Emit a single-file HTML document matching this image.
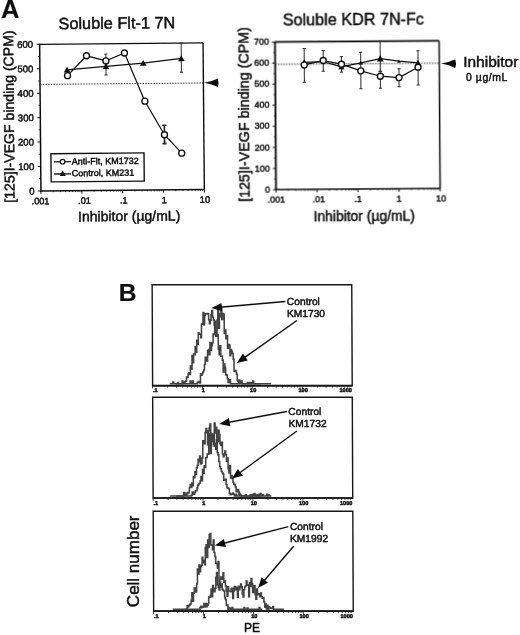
<!DOCTYPE html>
<html><head><meta charset="utf-8"><title>Figure</title>
<style>
html,body{margin:0;padding:0;background:#fff;}
svg{display:block;font-family:"Liberation Sans", sans-serif;fill:#111;}
text{stroke:#0a0a0a;stroke-width:0.43px;fill:#0a0a0a;}
</style></head><body>
<svg width="520" height="635" viewBox="0 0 520 635">
<defs><filter id="soft" x="0" y="0" width="100%" height="100%" filterUnits="userSpaceOnUse"><feGaussianBlur stdDeviation="0.32"/></filter></defs>
<rect width="520" height="635" fill="#fff"/>
<g filter="url(#soft)">
<text x="1" y="17.6" font-size="25.5" text-anchor="start" font-weight="bold" style="stroke-width:0.15px">A</text>
<g transform="rotate(-0.5 121 117)">
<text x="117.7" y="28.6" font-size="16.3" text-anchor="middle" font-weight="normal" >Soluble Flt-1 7N</text>
<line x1="40.30" y1="43.10" x2="40.30" y2="190.70" stroke="#111" stroke-width="1.5" />
<line x1="39.80" y1="190.20" x2="204.20" y2="190.20" stroke="#111" stroke-width="1.5" />
<line x1="40.30" y1="43.60" x2="203.70" y2="43.60" stroke="#111" stroke-width="1.3" />
<line x1="203.70" y1="43.60" x2="203.70" y2="190.20" stroke="#111" stroke-width="1.4" />
<line x1="37.30" y1="190.20" x2="40.30" y2="190.20" stroke="#111" stroke-width="1" />
<text x="33.8" y="193.6" font-size="9.6" text-anchor="end" font-weight="normal" >0</text>
<line x1="37.30" y1="165.77" x2="40.30" y2="165.77" stroke="#111" stroke-width="1" />
<text x="33.8" y="169.16666666666666" font-size="9.6" text-anchor="end" font-weight="normal" >100</text>
<line x1="37.30" y1="141.33" x2="40.30" y2="141.33" stroke="#111" stroke-width="1" />
<text x="33.8" y="144.73333333333332" font-size="9.6" text-anchor="end" font-weight="normal" >200</text>
<line x1="37.30" y1="116.90" x2="40.30" y2="116.90" stroke="#111" stroke-width="1" />
<text x="33.8" y="120.3" font-size="9.6" text-anchor="end" font-weight="normal" >300</text>
<line x1="37.30" y1="92.47" x2="40.30" y2="92.47" stroke="#111" stroke-width="1" />
<text x="33.8" y="95.86666666666666" font-size="9.6" text-anchor="end" font-weight="normal" >400</text>
<line x1="37.30" y1="68.03" x2="40.30" y2="68.03" stroke="#111" stroke-width="1" />
<text x="33.8" y="71.43333333333332" font-size="9.6" text-anchor="end" font-weight="normal" >500</text>
<line x1="37.30" y1="43.60" x2="40.30" y2="43.60" stroke="#111" stroke-width="1" />
<text x="33.8" y="46.99999999999999" font-size="9.6" text-anchor="end" font-weight="normal" >600</text>
<line x1="38.50" y1="177.98" x2="40.30" y2="177.98" stroke="#111" stroke-width="0.8" />
<line x1="38.50" y1="153.55" x2="40.30" y2="153.55" stroke="#111" stroke-width="0.8" />
<line x1="38.50" y1="129.12" x2="40.30" y2="129.12" stroke="#111" stroke-width="0.8" />
<line x1="38.50" y1="104.68" x2="40.30" y2="104.68" stroke="#111" stroke-width="0.8" />
<line x1="38.50" y1="80.25" x2="40.30" y2="80.25" stroke="#111" stroke-width="0.8" />
<line x1="38.50" y1="55.82" x2="40.30" y2="55.82" stroke="#111" stroke-width="0.8" />
<line x1="52.60" y1="190.20" x2="52.60" y2="191.70" stroke="#111" stroke-width="0.7" />
<line x1="59.79" y1="190.20" x2="59.79" y2="191.70" stroke="#111" stroke-width="0.7" />
<line x1="64.89" y1="190.20" x2="64.89" y2="191.70" stroke="#111" stroke-width="0.7" />
<line x1="68.85" y1="190.20" x2="68.85" y2="191.70" stroke="#111" stroke-width="0.7" />
<line x1="72.09" y1="190.20" x2="72.09" y2="191.70" stroke="#111" stroke-width="0.7" />
<line x1="74.82" y1="190.20" x2="74.82" y2="191.70" stroke="#111" stroke-width="0.7" />
<line x1="77.19" y1="190.20" x2="77.19" y2="191.70" stroke="#111" stroke-width="0.7" />
<line x1="79.28" y1="190.20" x2="79.28" y2="191.70" stroke="#111" stroke-width="0.7" />
<line x1="93.45" y1="190.20" x2="93.45" y2="191.70" stroke="#111" stroke-width="0.7" />
<line x1="100.64" y1="190.20" x2="100.64" y2="191.70" stroke="#111" stroke-width="0.7" />
<line x1="105.74" y1="190.20" x2="105.74" y2="191.70" stroke="#111" stroke-width="0.7" />
<line x1="109.70" y1="190.20" x2="109.70" y2="191.70" stroke="#111" stroke-width="0.7" />
<line x1="112.94" y1="190.20" x2="112.94" y2="191.70" stroke="#111" stroke-width="0.7" />
<line x1="115.67" y1="190.20" x2="115.67" y2="191.70" stroke="#111" stroke-width="0.7" />
<line x1="118.04" y1="190.20" x2="118.04" y2="191.70" stroke="#111" stroke-width="0.7" />
<line x1="120.13" y1="190.20" x2="120.13" y2="191.70" stroke="#111" stroke-width="0.7" />
<line x1="134.30" y1="190.20" x2="134.30" y2="191.70" stroke="#111" stroke-width="0.7" />
<line x1="141.49" y1="190.20" x2="141.49" y2="191.70" stroke="#111" stroke-width="0.7" />
<line x1="146.59" y1="190.20" x2="146.59" y2="191.70" stroke="#111" stroke-width="0.7" />
<line x1="150.55" y1="190.20" x2="150.55" y2="191.70" stroke="#111" stroke-width="0.7" />
<line x1="153.79" y1="190.20" x2="153.79" y2="191.70" stroke="#111" stroke-width="0.7" />
<line x1="156.52" y1="190.20" x2="156.52" y2="191.70" stroke="#111" stroke-width="0.7" />
<line x1="158.89" y1="190.20" x2="158.89" y2="191.70" stroke="#111" stroke-width="0.7" />
<line x1="160.98" y1="190.20" x2="160.98" y2="191.70" stroke="#111" stroke-width="0.7" />
<line x1="175.15" y1="190.20" x2="175.15" y2="191.70" stroke="#111" stroke-width="0.7" />
<line x1="182.34" y1="190.20" x2="182.34" y2="191.70" stroke="#111" stroke-width="0.7" />
<line x1="187.44" y1="190.20" x2="187.44" y2="191.70" stroke="#111" stroke-width="0.7" />
<line x1="191.40" y1="190.20" x2="191.40" y2="191.70" stroke="#111" stroke-width="0.7" />
<line x1="194.64" y1="190.20" x2="194.64" y2="191.70" stroke="#111" stroke-width="0.7" />
<line x1="197.37" y1="190.20" x2="197.37" y2="191.70" stroke="#111" stroke-width="0.7" />
<line x1="199.74" y1="190.20" x2="199.74" y2="191.70" stroke="#111" stroke-width="0.7" />
<line x1="201.83" y1="190.20" x2="201.83" y2="191.70" stroke="#111" stroke-width="0.7" />
<line x1="40.30" y1="190.20" x2="40.30" y2="193.20" stroke="#111" stroke-width="1" />
<text x="39.8" y="203.5" font-size="9.2" text-anchor="middle" font-weight="normal" >.001</text>
<line x1="81.15" y1="190.20" x2="81.15" y2="193.20" stroke="#111" stroke-width="1" />
<text x="83.74999999999999" y="203.5" font-size="9.2" text-anchor="middle" font-weight="normal" >.01</text>
<line x1="122.00" y1="190.20" x2="122.00" y2="193.20" stroke="#111" stroke-width="1" />
<text x="122.99999999999999" y="203.5" font-size="9.2" text-anchor="middle" font-weight="normal" >.1</text>
<line x1="162.85" y1="190.20" x2="162.85" y2="193.20" stroke="#111" stroke-width="1" />
<text x="163.54999999999995" y="203.5" font-size="9.2" text-anchor="middle" font-weight="normal" >1</text>
<line x1="203.70" y1="190.20" x2="203.70" y2="193.20" stroke="#111" stroke-width="1" />
<text x="204.2" y="203.5" font-size="9.2" text-anchor="middle" font-weight="normal" >10</text>
<text x="128.3" y="221.0" font-size="14.0" text-anchor="middle" font-weight="normal" >Inhibitor (µg/mL)</text>
<text x="13.9" y="115.6" font-size="14.1" text-anchor="middle" font-weight="normal" transform="rotate(-90 13.9 115.6)" >[125]I-VEGF binding (CPM)</text>
<line x1="40.30" y1="83.70" x2="203.70" y2="83.70" stroke="#222" stroke-width="0.9" stroke-dasharray="1.5 1.2"/>
<path d="M204.30,83.60 Q212.55,82.22 218.10,79.30 Q219.60,83.60 218.10,87.90 Q212.55,84.98 204.30,83.60 Z" fill="#111"/>
<line x1="106.40" y1="54.00" x2="106.40" y2="74.80" stroke="#2a2a2a" stroke-width="1.0" />
<line x1="104.80" y1="54.00" x2="108.00" y2="54.00" stroke="#2a2a2a" stroke-width="1.0" />
<line x1="104.80" y1="74.80" x2="108.00" y2="74.80" stroke="#2a2a2a" stroke-width="1.0" />
<line x1="181.80" y1="43.60" x2="181.80" y2="72.80" stroke="#2a2a2a" stroke-width="1.0" />
<line x1="180.20" y1="43.60" x2="183.40" y2="43.60" stroke="#2a2a2a" stroke-width="1.0" />
<line x1="180.20" y1="72.80" x2="183.40" y2="72.80" stroke="#2a2a2a" stroke-width="1.0" />
<line x1="164.30" y1="125.60" x2="164.30" y2="144.00" stroke="#222" stroke-width="1.6" />
<line x1="162.30" y1="125.60" x2="166.30" y2="125.60" stroke="#222" stroke-width="1.6" />
<line x1="162.30" y1="144.00" x2="166.30" y2="144.00" stroke="#222" stroke-width="1.6" />
<polyline fill="none" stroke="#111" stroke-width="1.25" points="67.5,69.3 106.4,66.3 143.7,63.4 181.8,59.0"/>
<polyline fill="none" stroke="#111" stroke-width="1.25" points="67.9,75.2 87,55.5 106.4,60.8 125,53 145,101.4 164.3,135.1 181.4,153.7"/>
<polygon points="67.50,66.00 64.20,71.94 70.80,71.94" fill="#111"/>
<polygon points="106.40,63.00 103.10,68.94 109.70,68.94" fill="#111"/>
<polygon points="143.70,60.10 140.40,66.04 147.00,66.04" fill="#111"/>
<polygon points="181.80,55.70 178.50,61.64 185.10,61.64" fill="#111"/>
<circle cx="67.90" cy="75.20" r="3.0" fill="#fff" stroke="#111" stroke-width="1.35"/>
<circle cx="87.00" cy="55.50" r="3.0" fill="#fff" stroke="#111" stroke-width="1.35"/>
<circle cx="106.40" cy="60.80" r="3.0" fill="#fff" stroke="#111" stroke-width="1.35"/>
<circle cx="125.00" cy="53.00" r="3.0" fill="#fff" stroke="#111" stroke-width="1.35"/>
<circle cx="145.00" cy="101.40" r="3.0" fill="#fff" stroke="#111" stroke-width="1.35"/>
<circle cx="164.30" cy="135.10" r="3.0" fill="#fff" stroke="#111" stroke-width="1.35"/>
<circle cx="181.40" cy="153.70" r="3.0" fill="#fff" stroke="#111" stroke-width="1.35"/>
<rect x="50.6" y="153.1" width="93.1" height="28.2" fill="#fff" stroke="#111" stroke-width="1.4"/>
<line x1="53.70" y1="161.20" x2="70.70" y2="161.20" stroke="#111" stroke-width="1.3" />
<circle cx="62.20" cy="161.20" r="2.3" fill="#fff" stroke="#111" stroke-width="1.2"/>
<line x1="53.70" y1="173.40" x2="70.70" y2="173.40" stroke="#111" stroke-width="1.3" />
<polygon points="62.20,170.00 59.20,175.40 65.20,175.40" fill="#111"/>
<text x="71.3" y="164.0" font-size="9" text-anchor="start" font-weight="normal" >Anti-Flt, KM1732</text>
<text x="71.3" y="175.8" font-size="9" text-anchor="start" font-weight="normal" >Control, KM231</text>
</g>
<g transform="rotate(-0.4 358 115)">
<text x="354.1" y="25" font-size="16.2" text-anchor="middle" font-weight="normal" >Soluble KDR 7N-Fc</text>
<line x1="275.50" y1="40.90" x2="275.50" y2="189.50" stroke="#111" stroke-width="1.9" />
<line x1="275.00" y1="189.00" x2="440.10" y2="189.00" stroke="#111" stroke-width="1.7" />
<line x1="275.50" y1="41.40" x2="439.60" y2="41.40" stroke="#111" stroke-width="1.6" />
<line x1="439.60" y1="41.40" x2="439.60" y2="189.00" stroke="#111" stroke-width="1.5" />
<line x1="272.50" y1="189.00" x2="275.50" y2="189.00" stroke="#111" stroke-width="1" />
<text x="269.5" y="191.7" font-size="9" text-anchor="end" font-weight="normal" >0</text>
<line x1="272.50" y1="167.91" x2="275.50" y2="167.91" stroke="#111" stroke-width="1" />
<text x="269.5" y="170.6142857142857" font-size="9" text-anchor="end" font-weight="normal" >100</text>
<line x1="272.50" y1="146.83" x2="275.50" y2="146.83" stroke="#111" stroke-width="1" />
<text x="269.5" y="149.5285714285714" font-size="9" text-anchor="end" font-weight="normal" >200</text>
<line x1="272.50" y1="125.74" x2="275.50" y2="125.74" stroke="#111" stroke-width="1" />
<text x="269.5" y="128.44285714285712" font-size="9" text-anchor="end" font-weight="normal" >300</text>
<line x1="272.50" y1="104.66" x2="275.50" y2="104.66" stroke="#111" stroke-width="1" />
<text x="269.5" y="107.35714285714286" font-size="9" text-anchor="end" font-weight="normal" >400</text>
<line x1="272.50" y1="83.57" x2="275.50" y2="83.57" stroke="#111" stroke-width="1" />
<text x="269.5" y="86.27142857142857" font-size="9" text-anchor="end" font-weight="normal" >500</text>
<line x1="272.50" y1="62.49" x2="275.50" y2="62.49" stroke="#111" stroke-width="1" />
<text x="269.5" y="65.18571428571428" font-size="9" text-anchor="end" font-weight="normal" >600</text>
<line x1="272.50" y1="41.40" x2="275.50" y2="41.40" stroke="#111" stroke-width="1" />
<text x="269.5" y="44.10000000000001" font-size="9" text-anchor="end" font-weight="normal" >700</text>
<line x1="273.70" y1="178.46" x2="275.50" y2="178.46" stroke="#111" stroke-width="0.8" />
<line x1="273.70" y1="157.37" x2="275.50" y2="157.37" stroke="#111" stroke-width="0.8" />
<line x1="273.70" y1="136.29" x2="275.50" y2="136.29" stroke="#111" stroke-width="0.8" />
<line x1="273.70" y1="115.20" x2="275.50" y2="115.20" stroke="#111" stroke-width="0.8" />
<line x1="273.70" y1="94.11" x2="275.50" y2="94.11" stroke="#111" stroke-width="0.8" />
<line x1="273.70" y1="73.03" x2="275.50" y2="73.03" stroke="#111" stroke-width="0.8" />
<line x1="273.70" y1="51.94" x2="275.50" y2="51.94" stroke="#111" stroke-width="0.8" />
<line x1="287.85" y1="189.00" x2="287.85" y2="190.50" stroke="#111" stroke-width="0.7" />
<line x1="295.07" y1="189.00" x2="295.07" y2="190.50" stroke="#111" stroke-width="0.7" />
<line x1="300.20" y1="189.00" x2="300.20" y2="190.50" stroke="#111" stroke-width="0.7" />
<line x1="304.18" y1="189.00" x2="304.18" y2="190.50" stroke="#111" stroke-width="0.7" />
<line x1="307.42" y1="189.00" x2="307.42" y2="190.50" stroke="#111" stroke-width="0.7" />
<line x1="310.17" y1="189.00" x2="310.17" y2="190.50" stroke="#111" stroke-width="0.7" />
<line x1="312.55" y1="189.00" x2="312.55" y2="190.50" stroke="#111" stroke-width="0.7" />
<line x1="314.65" y1="189.00" x2="314.65" y2="190.50" stroke="#111" stroke-width="0.7" />
<line x1="328.87" y1="189.00" x2="328.87" y2="190.50" stroke="#111" stroke-width="0.7" />
<line x1="336.10" y1="189.00" x2="336.10" y2="190.50" stroke="#111" stroke-width="0.7" />
<line x1="341.22" y1="189.00" x2="341.22" y2="190.50" stroke="#111" stroke-width="0.7" />
<line x1="345.20" y1="189.00" x2="345.20" y2="190.50" stroke="#111" stroke-width="0.7" />
<line x1="348.45" y1="189.00" x2="348.45" y2="190.50" stroke="#111" stroke-width="0.7" />
<line x1="351.20" y1="189.00" x2="351.20" y2="190.50" stroke="#111" stroke-width="0.7" />
<line x1="353.57" y1="189.00" x2="353.57" y2="190.50" stroke="#111" stroke-width="0.7" />
<line x1="355.67" y1="189.00" x2="355.67" y2="190.50" stroke="#111" stroke-width="0.7" />
<line x1="369.90" y1="189.00" x2="369.90" y2="190.50" stroke="#111" stroke-width="0.7" />
<line x1="377.12" y1="189.00" x2="377.12" y2="190.50" stroke="#111" stroke-width="0.7" />
<line x1="382.25" y1="189.00" x2="382.25" y2="190.50" stroke="#111" stroke-width="0.7" />
<line x1="386.23" y1="189.00" x2="386.23" y2="190.50" stroke="#111" stroke-width="0.7" />
<line x1="389.47" y1="189.00" x2="389.47" y2="190.50" stroke="#111" stroke-width="0.7" />
<line x1="392.22" y1="189.00" x2="392.22" y2="190.50" stroke="#111" stroke-width="0.7" />
<line x1="394.60" y1="189.00" x2="394.60" y2="190.50" stroke="#111" stroke-width="0.7" />
<line x1="396.70" y1="189.00" x2="396.70" y2="190.50" stroke="#111" stroke-width="0.7" />
<line x1="410.92" y1="189.00" x2="410.92" y2="190.50" stroke="#111" stroke-width="0.7" />
<line x1="418.15" y1="189.00" x2="418.15" y2="190.50" stroke="#111" stroke-width="0.7" />
<line x1="423.27" y1="189.00" x2="423.27" y2="190.50" stroke="#111" stroke-width="0.7" />
<line x1="427.25" y1="189.00" x2="427.25" y2="190.50" stroke="#111" stroke-width="0.7" />
<line x1="430.50" y1="189.00" x2="430.50" y2="190.50" stroke="#111" stroke-width="0.7" />
<line x1="433.25" y1="189.00" x2="433.25" y2="190.50" stroke="#111" stroke-width="0.7" />
<line x1="435.62" y1="189.00" x2="435.62" y2="190.50" stroke="#111" stroke-width="0.7" />
<line x1="437.72" y1="189.00" x2="437.72" y2="190.50" stroke="#111" stroke-width="0.7" />
<line x1="275.50" y1="189.00" x2="275.50" y2="192.00" stroke="#111" stroke-width="1" />
<text x="275.7" y="201.8" font-size="9" text-anchor="middle" font-weight="normal" >.001</text>
<line x1="316.52" y1="189.00" x2="316.52" y2="192.00" stroke="#111" stroke-width="1" />
<text x="318.325" y="201.8" font-size="9" text-anchor="middle" font-weight="normal" >.01</text>
<line x1="357.55" y1="189.00" x2="357.55" y2="192.00" stroke="#111" stroke-width="1" />
<text x="357.55" y="201.8" font-size="9" text-anchor="middle" font-weight="normal" >.1</text>
<line x1="398.58" y1="189.00" x2="398.58" y2="192.00" stroke="#111" stroke-width="1" />
<text x="398.57500000000005" y="201.8" font-size="9" text-anchor="middle" font-weight="normal" >1</text>
<line x1="439.60" y1="189.00" x2="439.60" y2="192.00" stroke="#111" stroke-width="1" />
<text x="440.6" y="201.8" font-size="9" text-anchor="middle" font-weight="normal" >10</text>
<text x="363.5" y="220.6" font-size="13.9" text-anchor="middle" font-weight="normal" >Inhibitor (µg/mL)</text>
<text x="248.6" y="113.6" font-size="14.3" text-anchor="middle" font-weight="normal" transform="rotate(-90 248.6 113.6)" >[125]I-VEGF binding (CPM)</text>
<line x1="275.50" y1="63.80" x2="439.60" y2="63.80" stroke="#222" stroke-width="0.9" stroke-dasharray="1.5 1.2"/>
</g>
<path d="M441.00,63.60 Q449.52,62.22 455.26,59.30 Q456.81,63.60 455.26,67.90 Q449.52,64.98 441.00,63.60 Z" fill="#111"/>
<text x="463.2" y="67" font-size="15.5" text-anchor="start" font-weight="normal" >Inhibitor</text>
<text x="466" y="80.8" font-size="10.4" text-anchor="start" font-weight="normal" letter-spacing="0.6">0 µg/mL</text>
<g transform="rotate(-0.4 358 115)">
<line x1="304.60" y1="48.20" x2="304.60" y2="81.90" stroke="#2a2a2a" stroke-width="1.0" />
<line x1="303.00" y1="48.20" x2="306.20" y2="48.20" stroke="#2a2a2a" stroke-width="1.0" />
<line x1="303.00" y1="81.90" x2="306.20" y2="81.90" stroke="#2a2a2a" stroke-width="1.0" />
<line x1="323.60" y1="50.20" x2="323.60" y2="71.00" stroke="#2a2a2a" stroke-width="1.0" />
<line x1="322.00" y1="50.20" x2="325.20" y2="50.20" stroke="#2a2a2a" stroke-width="1.0" />
<line x1="322.00" y1="71.00" x2="325.20" y2="71.00" stroke="#2a2a2a" stroke-width="1.0" />
<line x1="341.80" y1="56.50" x2="341.80" y2="72.00" stroke="#2a2a2a" stroke-width="1.0" />
<line x1="340.20" y1="56.50" x2="343.40" y2="56.50" stroke="#2a2a2a" stroke-width="1.0" />
<line x1="340.20" y1="72.00" x2="343.40" y2="72.00" stroke="#2a2a2a" stroke-width="1.0" />
<line x1="361.10" y1="52.20" x2="361.10" y2="88.80" stroke="#2a2a2a" stroke-width="1.0" />
<line x1="359.50" y1="52.20" x2="362.70" y2="52.20" stroke="#2a2a2a" stroke-width="1.0" />
<line x1="359.50" y1="88.80" x2="362.70" y2="88.80" stroke="#2a2a2a" stroke-width="1.0" />
<line x1="380.60" y1="41.40" x2="380.60" y2="88.50" stroke="#2a2a2a" stroke-width="1.0" />
<line x1="379.00" y1="41.40" x2="382.20" y2="41.40" stroke="#2a2a2a" stroke-width="1.0" />
<line x1="379.00" y1="88.50" x2="382.20" y2="88.50" stroke="#2a2a2a" stroke-width="1.0" />
<line x1="399.30" y1="69.00" x2="399.30" y2="87.10" stroke="#2a2a2a" stroke-width="1.0" />
<line x1="397.70" y1="69.00" x2="400.90" y2="69.00" stroke="#2a2a2a" stroke-width="1.0" />
<line x1="397.70" y1="87.10" x2="400.90" y2="87.10" stroke="#2a2a2a" stroke-width="1.0" />
<line x1="418.40" y1="51.10" x2="418.40" y2="85.40" stroke="#2a2a2a" stroke-width="1.0" />
<line x1="416.80" y1="51.10" x2="420.00" y2="51.10" stroke="#2a2a2a" stroke-width="1.0" />
<line x1="416.80" y1="85.40" x2="420.00" y2="85.40" stroke="#2a2a2a" stroke-width="1.0" />
<line x1="380.60" y1="71.50" x2="380.60" y2="71.50" stroke="#2a2a2a" stroke-width="1.0" />
<line x1="379.00" y1="71.50" x2="382.20" y2="71.50" stroke="#2a2a2a" stroke-width="1.0" />
<line x1="379.00" y1="71.50" x2="382.20" y2="71.50" stroke="#2a2a2a" stroke-width="1.0" />
<polyline fill="none" stroke="#111" stroke-width="1.25" points="304.6,62 323.6,61.3 341.8,66.8 361.1,62.9 380.6,58.8 399.3,61.5 418.4,63.2"/>
<polyline fill="none" stroke="#111" stroke-width="1.25" points="304.6,64.6 323.6,60.3 341.8,64.1 361.1,70.9 380.6,76.4 399.3,77.9 418.4,67.7"/>
<polygon points="304.60,58.90 301.50,64.48 307.70,64.48" fill="#111"/>
<polygon points="323.60,59.10 321.40,63.06 325.80,63.06" fill="#111"/>
<polygon points="341.80,63.70 338.70,69.28 344.90,69.28" fill="#111"/>
<polygon points="361.10,60.70 358.90,64.66 363.30,64.66" fill="#111"/>
<polygon points="380.60,55.30 377.10,61.60 384.10,61.60" fill="#111"/>
<polygon points="399.30,59.70 397.50,62.94 401.10,62.94" fill="#111"/>
<polygon points="418.40,60.20 415.40,65.60 421.40,65.60" fill="#111"/>
<circle cx="304.60" cy="64.60" r="3.0" fill="#fff" stroke="#111" stroke-width="1.35"/>
<circle cx="323.60" cy="60.30" r="3.0" fill="#fff" stroke="#111" stroke-width="1.35"/>
<circle cx="341.80" cy="64.10" r="3.0" fill="#fff" stroke="#111" stroke-width="1.35"/>
<circle cx="361.10" cy="70.90" r="3.0" fill="#fff" stroke="#111" stroke-width="1.35"/>
<circle cx="380.60" cy="76.40" r="3.0" fill="#fff" stroke="#111" stroke-width="1.35"/>
<circle cx="399.30" cy="77.90" r="3.0" fill="#fff" stroke="#111" stroke-width="1.35"/>
<circle cx="418.40" cy="67.70" r="3.0" fill="#fff" stroke="#111" stroke-width="1.35"/>
</g>
<text x="118.8" y="301.3" font-size="24.6" text-anchor="start" font-weight="bold" style="stroke-width:0.15px">B</text>
<text x="139.2" y="561.3" font-size="17" text-anchor="middle" font-weight="normal" transform="rotate(-90 139.2 561.3)" >Cell number</text>
<text x="252" y="632" font-size="12" text-anchor="middle" font-weight="normal" >PE</text>
<g transform="matrix(1 0 0.0046 1 -2.061 0)">
<rect x="152.9" y="284.8" width="199.6" height="100.89999999999998" fill="none" stroke="#151515" stroke-width="1.4"/>
<line x1="152.90" y1="385.70" x2="352.50" y2="385.70" stroke="#151515" stroke-width="1.7" />
<line x1="152.90" y1="385.70" x2="152.90" y2="388.50" stroke="#222" stroke-width="0.9" />
<line x1="167.92" y1="385.70" x2="167.92" y2="387.60" stroke="#222" stroke-width="0.9" />
<line x1="176.71" y1="385.70" x2="176.71" y2="387.60" stroke="#222" stroke-width="0.9" />
<line x1="182.94" y1="385.70" x2="182.94" y2="387.60" stroke="#222" stroke-width="0.9" />
<line x1="187.78" y1="385.70" x2="187.78" y2="387.60" stroke="#222" stroke-width="0.9" />
<line x1="191.73" y1="385.70" x2="191.73" y2="387.60" stroke="#222" stroke-width="0.9" />
<line x1="195.07" y1="385.70" x2="195.07" y2="387.60" stroke="#222" stroke-width="0.9" />
<line x1="197.96" y1="385.70" x2="197.96" y2="387.60" stroke="#222" stroke-width="0.9" />
<line x1="200.52" y1="385.70" x2="200.52" y2="387.60" stroke="#222" stroke-width="0.9" />
<line x1="202.80" y1="385.70" x2="202.80" y2="388.50" stroke="#222" stroke-width="0.9" />
<line x1="217.82" y1="385.70" x2="217.82" y2="387.60" stroke="#222" stroke-width="0.9" />
<line x1="226.61" y1="385.70" x2="226.61" y2="387.60" stroke="#222" stroke-width="0.9" />
<line x1="232.84" y1="385.70" x2="232.84" y2="387.60" stroke="#222" stroke-width="0.9" />
<line x1="237.68" y1="385.70" x2="237.68" y2="387.60" stroke="#222" stroke-width="0.9" />
<line x1="241.63" y1="385.70" x2="241.63" y2="387.60" stroke="#222" stroke-width="0.9" />
<line x1="244.97" y1="385.70" x2="244.97" y2="387.60" stroke="#222" stroke-width="0.9" />
<line x1="247.86" y1="385.70" x2="247.86" y2="387.60" stroke="#222" stroke-width="0.9" />
<line x1="250.42" y1="385.70" x2="250.42" y2="387.60" stroke="#222" stroke-width="0.9" />
<line x1="252.70" y1="385.70" x2="252.70" y2="388.50" stroke="#222" stroke-width="0.9" />
<line x1="267.72" y1="385.70" x2="267.72" y2="387.60" stroke="#222" stroke-width="0.9" />
<line x1="276.51" y1="385.70" x2="276.51" y2="387.60" stroke="#222" stroke-width="0.9" />
<line x1="282.74" y1="385.70" x2="282.74" y2="387.60" stroke="#222" stroke-width="0.9" />
<line x1="287.58" y1="385.70" x2="287.58" y2="387.60" stroke="#222" stroke-width="0.9" />
<line x1="291.53" y1="385.70" x2="291.53" y2="387.60" stroke="#222" stroke-width="0.9" />
<line x1="294.87" y1="385.70" x2="294.87" y2="387.60" stroke="#222" stroke-width="0.9" />
<line x1="297.76" y1="385.70" x2="297.76" y2="387.60" stroke="#222" stroke-width="0.9" />
<line x1="300.32" y1="385.70" x2="300.32" y2="387.60" stroke="#222" stroke-width="0.9" />
<line x1="302.60" y1="385.70" x2="302.60" y2="388.50" stroke="#222" stroke-width="0.9" />
<line x1="317.62" y1="385.70" x2="317.62" y2="387.60" stroke="#222" stroke-width="0.9" />
<line x1="326.41" y1="385.70" x2="326.41" y2="387.60" stroke="#222" stroke-width="0.9" />
<line x1="332.64" y1="385.70" x2="332.64" y2="387.60" stroke="#222" stroke-width="0.9" />
<line x1="337.48" y1="385.70" x2="337.48" y2="387.60" stroke="#222" stroke-width="0.9" />
<line x1="341.43" y1="385.70" x2="341.43" y2="387.60" stroke="#222" stroke-width="0.9" />
<line x1="344.77" y1="385.70" x2="344.77" y2="387.60" stroke="#222" stroke-width="0.9" />
<line x1="347.66" y1="385.70" x2="347.66" y2="387.60" stroke="#222" stroke-width="0.9" />
<line x1="350.22" y1="385.70" x2="350.22" y2="387.60" stroke="#222" stroke-width="0.9" />
<text x="153.20000000000002" y="392.3" font-size="5.6" text-anchor="start" font-weight="bold" >.1</text>
<text x="203.60000000000002" y="392.3" font-size="5.6" text-anchor="middle" font-weight="bold" >1</text>
<text x="253.5" y="392.3" font-size="5.6" text-anchor="middle" font-weight="bold" >10</text>
<text x="303.40000000000003" y="392.3" font-size="5.6" text-anchor="middle" font-weight="bold" >100</text>
<text x="352.2" y="392.3" font-size="5.6" text-anchor="end" font-weight="bold" >1000</text>
<rect x="152.9" y="397.3" width="199.6" height="100.69999999999999" fill="none" stroke="#151515" stroke-width="1.4"/>
<line x1="152.90" y1="498.00" x2="352.50" y2="498.00" stroke="#151515" stroke-width="1.7" />
<line x1="152.90" y1="498.00" x2="152.90" y2="500.80" stroke="#222" stroke-width="0.9" />
<line x1="167.92" y1="498.00" x2="167.92" y2="499.90" stroke="#222" stroke-width="0.9" />
<line x1="176.71" y1="498.00" x2="176.71" y2="499.90" stroke="#222" stroke-width="0.9" />
<line x1="182.94" y1="498.00" x2="182.94" y2="499.90" stroke="#222" stroke-width="0.9" />
<line x1="187.78" y1="498.00" x2="187.78" y2="499.90" stroke="#222" stroke-width="0.9" />
<line x1="191.73" y1="498.00" x2="191.73" y2="499.90" stroke="#222" stroke-width="0.9" />
<line x1="195.07" y1="498.00" x2="195.07" y2="499.90" stroke="#222" stroke-width="0.9" />
<line x1="197.96" y1="498.00" x2="197.96" y2="499.90" stroke="#222" stroke-width="0.9" />
<line x1="200.52" y1="498.00" x2="200.52" y2="499.90" stroke="#222" stroke-width="0.9" />
<line x1="202.80" y1="498.00" x2="202.80" y2="500.80" stroke="#222" stroke-width="0.9" />
<line x1="217.82" y1="498.00" x2="217.82" y2="499.90" stroke="#222" stroke-width="0.9" />
<line x1="226.61" y1="498.00" x2="226.61" y2="499.90" stroke="#222" stroke-width="0.9" />
<line x1="232.84" y1="498.00" x2="232.84" y2="499.90" stroke="#222" stroke-width="0.9" />
<line x1="237.68" y1="498.00" x2="237.68" y2="499.90" stroke="#222" stroke-width="0.9" />
<line x1="241.63" y1="498.00" x2="241.63" y2="499.90" stroke="#222" stroke-width="0.9" />
<line x1="244.97" y1="498.00" x2="244.97" y2="499.90" stroke="#222" stroke-width="0.9" />
<line x1="247.86" y1="498.00" x2="247.86" y2="499.90" stroke="#222" stroke-width="0.9" />
<line x1="250.42" y1="498.00" x2="250.42" y2="499.90" stroke="#222" stroke-width="0.9" />
<line x1="252.70" y1="498.00" x2="252.70" y2="500.80" stroke="#222" stroke-width="0.9" />
<line x1="267.72" y1="498.00" x2="267.72" y2="499.90" stroke="#222" stroke-width="0.9" />
<line x1="276.51" y1="498.00" x2="276.51" y2="499.90" stroke="#222" stroke-width="0.9" />
<line x1="282.74" y1="498.00" x2="282.74" y2="499.90" stroke="#222" stroke-width="0.9" />
<line x1="287.58" y1="498.00" x2="287.58" y2="499.90" stroke="#222" stroke-width="0.9" />
<line x1="291.53" y1="498.00" x2="291.53" y2="499.90" stroke="#222" stroke-width="0.9" />
<line x1="294.87" y1="498.00" x2="294.87" y2="499.90" stroke="#222" stroke-width="0.9" />
<line x1="297.76" y1="498.00" x2="297.76" y2="499.90" stroke="#222" stroke-width="0.9" />
<line x1="300.32" y1="498.00" x2="300.32" y2="499.90" stroke="#222" stroke-width="0.9" />
<line x1="302.60" y1="498.00" x2="302.60" y2="500.80" stroke="#222" stroke-width="0.9" />
<line x1="317.62" y1="498.00" x2="317.62" y2="499.90" stroke="#222" stroke-width="0.9" />
<line x1="326.41" y1="498.00" x2="326.41" y2="499.90" stroke="#222" stroke-width="0.9" />
<line x1="332.64" y1="498.00" x2="332.64" y2="499.90" stroke="#222" stroke-width="0.9" />
<line x1="337.48" y1="498.00" x2="337.48" y2="499.90" stroke="#222" stroke-width="0.9" />
<line x1="341.43" y1="498.00" x2="341.43" y2="499.90" stroke="#222" stroke-width="0.9" />
<line x1="344.77" y1="498.00" x2="344.77" y2="499.90" stroke="#222" stroke-width="0.9" />
<line x1="347.66" y1="498.00" x2="347.66" y2="499.90" stroke="#222" stroke-width="0.9" />
<line x1="350.22" y1="498.00" x2="350.22" y2="499.90" stroke="#222" stroke-width="0.9" />
<text x="153.20000000000002" y="504.6" font-size="5.6" text-anchor="start" font-weight="bold" >.1</text>
<text x="203.60000000000002" y="504.6" font-size="5.6" text-anchor="middle" font-weight="bold" >1</text>
<text x="253.5" y="504.6" font-size="5.6" text-anchor="middle" font-weight="bold" >10</text>
<text x="303.40000000000003" y="504.6" font-size="5.6" text-anchor="middle" font-weight="bold" >100</text>
<text x="352.2" y="504.6" font-size="5.6" text-anchor="end" font-weight="bold" >1000</text>
<rect x="152.9" y="511.3" width="199.6" height="99.90000000000003" fill="none" stroke="#151515" stroke-width="1.4"/>
<line x1="152.90" y1="611.20" x2="352.50" y2="611.20" stroke="#151515" stroke-width="1.7" />
<line x1="152.90" y1="611.20" x2="152.90" y2="614.00" stroke="#222" stroke-width="0.9" />
<line x1="167.92" y1="611.20" x2="167.92" y2="613.10" stroke="#222" stroke-width="0.9" />
<line x1="176.71" y1="611.20" x2="176.71" y2="613.10" stroke="#222" stroke-width="0.9" />
<line x1="182.94" y1="611.20" x2="182.94" y2="613.10" stroke="#222" stroke-width="0.9" />
<line x1="187.78" y1="611.20" x2="187.78" y2="613.10" stroke="#222" stroke-width="0.9" />
<line x1="191.73" y1="611.20" x2="191.73" y2="613.10" stroke="#222" stroke-width="0.9" />
<line x1="195.07" y1="611.20" x2="195.07" y2="613.10" stroke="#222" stroke-width="0.9" />
<line x1="197.96" y1="611.20" x2="197.96" y2="613.10" stroke="#222" stroke-width="0.9" />
<line x1="200.52" y1="611.20" x2="200.52" y2="613.10" stroke="#222" stroke-width="0.9" />
<line x1="202.80" y1="611.20" x2="202.80" y2="614.00" stroke="#222" stroke-width="0.9" />
<line x1="217.82" y1="611.20" x2="217.82" y2="613.10" stroke="#222" stroke-width="0.9" />
<line x1="226.61" y1="611.20" x2="226.61" y2="613.10" stroke="#222" stroke-width="0.9" />
<line x1="232.84" y1="611.20" x2="232.84" y2="613.10" stroke="#222" stroke-width="0.9" />
<line x1="237.68" y1="611.20" x2="237.68" y2="613.10" stroke="#222" stroke-width="0.9" />
<line x1="241.63" y1="611.20" x2="241.63" y2="613.10" stroke="#222" stroke-width="0.9" />
<line x1="244.97" y1="611.20" x2="244.97" y2="613.10" stroke="#222" stroke-width="0.9" />
<line x1="247.86" y1="611.20" x2="247.86" y2="613.10" stroke="#222" stroke-width="0.9" />
<line x1="250.42" y1="611.20" x2="250.42" y2="613.10" stroke="#222" stroke-width="0.9" />
<line x1="252.70" y1="611.20" x2="252.70" y2="614.00" stroke="#222" stroke-width="0.9" />
<line x1="267.72" y1="611.20" x2="267.72" y2="613.10" stroke="#222" stroke-width="0.9" />
<line x1="276.51" y1="611.20" x2="276.51" y2="613.10" stroke="#222" stroke-width="0.9" />
<line x1="282.74" y1="611.20" x2="282.74" y2="613.10" stroke="#222" stroke-width="0.9" />
<line x1="287.58" y1="611.20" x2="287.58" y2="613.10" stroke="#222" stroke-width="0.9" />
<line x1="291.53" y1="611.20" x2="291.53" y2="613.10" stroke="#222" stroke-width="0.9" />
<line x1="294.87" y1="611.20" x2="294.87" y2="613.10" stroke="#222" stroke-width="0.9" />
<line x1="297.76" y1="611.20" x2="297.76" y2="613.10" stroke="#222" stroke-width="0.9" />
<line x1="300.32" y1="611.20" x2="300.32" y2="613.10" stroke="#222" stroke-width="0.9" />
<line x1="302.60" y1="611.20" x2="302.60" y2="614.00" stroke="#222" stroke-width="0.9" />
<line x1="317.62" y1="611.20" x2="317.62" y2="613.10" stroke="#222" stroke-width="0.9" />
<line x1="326.41" y1="611.20" x2="326.41" y2="613.10" stroke="#222" stroke-width="0.9" />
<line x1="332.64" y1="611.20" x2="332.64" y2="613.10" stroke="#222" stroke-width="0.9" />
<line x1="337.48" y1="611.20" x2="337.48" y2="613.10" stroke="#222" stroke-width="0.9" />
<line x1="341.43" y1="611.20" x2="341.43" y2="613.10" stroke="#222" stroke-width="0.9" />
<line x1="344.77" y1="611.20" x2="344.77" y2="613.10" stroke="#222" stroke-width="0.9" />
<line x1="347.66" y1="611.20" x2="347.66" y2="613.10" stroke="#222" stroke-width="0.9" />
<line x1="350.22" y1="611.20" x2="350.22" y2="613.10" stroke="#222" stroke-width="0.9" />
<text x="153.20000000000002" y="617.8000000000001" font-size="5.6" text-anchor="start" font-weight="bold" >.1</text>
<text x="203.60000000000002" y="617.8000000000001" font-size="5.6" text-anchor="middle" font-weight="bold" >1</text>
<text x="253.5" y="617.8000000000001" font-size="5.6" text-anchor="middle" font-weight="bold" >10</text>
<text x="303.40000000000003" y="617.8000000000001" font-size="5.6" text-anchor="middle" font-weight="bold" >100</text>
<text x="352.2" y="617.8000000000001" font-size="5.6" text-anchor="end" font-weight="bold" >1000</text>
<path d="M170.0,383.7 H170.8 V383.7 H171.6 V383.7 H172.4 V383.7 H173.2 V381.9 H174.0 V383.7 H174.8 V383.7 H175.6 V383.7 H176.4 V383.7 H177.2 V383.7 H178.0 V382.5 H178.8 V383.7 H179.6 V383.7 H180.4 V383.7 H181.2 V383.7 H182.0 V383.7 H182.8 V383.7 H183.6 V382.8 H184.4 V382.2 H185.2 V381.5 H186.0 V380.9 H186.8 V377.1 H187.6 V377.5 H188.4 V374.1 H189.2 V372.7 H190.0 V374.5 H190.8 V365.9 H191.6 V369.1 H192.4 V355.5 H193.2 V362.6 H194.0 V353.9 H194.8 V354.6 H195.6 V346.6 H196.4 V352.5 H197.2 V340.3 H198.0 V344.2 H198.8 V332.8 H199.6 V333.9 H200.4 V334.2 H201.2 V337.7 H202.0 V324.3 H202.8 V323.6 H203.6 V312.6 H204.4 V324.6 H205.2 V315.4 H206.0 V313.8 H206.8 V313.9 H207.6 V313.6 H208.4 V313.4 H209.2 V319.7 H210.0 V323.6 H210.8 V320.3 H211.6 V314.8 H212.4 V310.5 H213.2 V317.3 H214.0 V320.0 H214.8 V325.3 H215.6 V329.3 H216.4 V336.1 H217.2 V335.8 H218.0 V334.4 H218.8 V349.4 H219.6 V354.7 H220.4 V345.7 H221.2 V356.3 H222.0 V356.2 H222.8 V360.1 H223.6 V371.9 H224.4 V363.9 H225.2 V367.2 H226.0 V374.6 H226.8 V375.1 H227.6 V378.8 H228.4 V382.5 H229.2 V381.8 H230.0 V379.8 H230.8 V383.7 H231.6 V383.7 H232.4 V383.7 H233.2 V383.7 H234.0 V383.7 H234.8 V383.7 H235.6 V383.7 H236.4 V383.7 H237.2 V383.7 H238.0 V383.7 H238.8 V381.1 H239.6 V383.7 H240.4 V383.7 H241.2 V383.7 H242.0 V383.7 H242.8 V383.7 H243.6 V383.7 H244.4 V383.7 H245.2 V383.7 H246.0 V383.7 H246.8 V383.7 H247.6 V382.5 H248.4 V383.7 H249.2 V382.5 H250.0 V383.7 H250.8 V383.7 H251.6 V382.5 H252.4 V383.7 H253.2 V381.1 H254.0 V383.7 H254.8 V383.7 H255.6 V383.7 H256.4 V383.7 H257.2 V383.7 H258.0 V383.7 H258.8 V383.7 H259.6 V383.7 H260.4 V383.7 H261.2 V383.7" fill="none" stroke="#424242" stroke-width="1.55" stroke-linejoin="miter"/>
<path d="M176.0,383.7 H176.8 V383.7 H177.6 V383.7 H178.4 V383.7 H179.2 V383.7 H180.0 V383.7 H180.8 V383.7 H181.6 V383.7 H182.4 V381.1 H183.2 V383.7 H184.0 V382.5 H184.8 V383.7 H185.6 V383.7 H186.4 V383.7 H187.2 V383.7 H188.0 V383.7 H188.8 V383.7 H189.6 V383.7 H190.4 V381.1 H191.2 V383.7 H192.0 V383.7 H192.8 V381.1 H193.6 V383.7 H194.4 V383.7 H195.2 V383.7 H196.0 V383.7 H196.8 V383.7 H197.6 V382.4 H198.4 V381.5 H199.2 V382.0 H200.0 V382.9 H200.8 V374.0 H201.6 V375.2 H202.4 V373.6 H203.2 V371.9 H204.0 V369.9 H204.8 V364.5 H205.6 V357.3 H206.4 V360.3 H207.2 V361.0 H208.0 V350.7 H208.8 V349.4 H209.6 V354.6 H210.4 V342.6 H211.2 V350.4 H212.0 V345.6 H212.8 V342.7 H213.6 V334.0 H214.4 V334.7 H215.2 V321.3 H216.0 V330.0 H216.8 V335.5 H217.6 V319.9 H218.4 V307.9 H219.2 V328.3 H220.0 V316.6 H220.8 V313.7 H221.6 V308.3 H222.4 V319.5 H223.2 V313.6 H224.0 V314.3 H224.8 V333.5 H225.6 V330.1 H226.4 V338.6 H227.2 V335.7 H228.0 V348.3 H228.8 V344.5 H229.6 V345.0 H230.4 V355.7 H231.2 V349.4 H232.0 V351.3 H232.8 V353.4 H233.6 V359.3 H234.4 V371.4 H235.2 V370.4 H236.0 V371.0 H236.8 V374.2 H237.6 V380.4 H238.4 V381.2 H239.2 V380.1 H240.0 V382.2 H240.8 V382.2 H241.6 V381.0 H242.4 V383.7 H243.2 V383.7 H244.0 V383.7 H244.8 V383.7 H245.6 V383.7 H246.4 V383.7 H247.2 V383.7 H248.0 V383.7 H248.8 V383.7 H249.6 V383.7 H250.4 V383.7 H251.2 V383.7 H252.0 V383.7 H252.8 V383.7 H253.6 V383.7 H254.4 V383.7 H255.2 V383.7 H256.0 V383.7 H256.8 V383.7 H257.6 V383.7 H258.4 V383.7 H259.2 V383.7 H260.0 V383.7 H260.8 V383.7 H261.6 V383.7 H262.4 V383.7 H263.2 V383.7 H264.0 V383.7 H264.8 V383.7 H265.6 V383.7 H266.4 V383.7 H267.2 V383.7 H268.0 V383.7 H268.8 V383.7 H269.6 V383.7 H270.4 V383.7 H271.2 V383.7" fill="none" stroke="#424242" stroke-width="1.55" stroke-linejoin="miter"/>
<text x="287.5" y="305.5" font-size="10.25" text-anchor="start" font-weight="normal" >Control</text>
<text x="287.5" y="317.5" font-size="10.25" text-anchor="start" font-weight="normal" >KM1730</text>
<line x1="286.00" y1="301.50" x2="220.47" y2="307.26" stroke="#111" stroke-width="1.4" />
<polygon points="212.00,308.00 222.09,302.90 222.83,311.27" fill="#111"/>
<line x1="297.50" y1="320.50" x2="244.15" y2="358.10" stroke="#111" stroke-width="1.4" />
<polygon points="237.20,363.00 243.36,353.52 248.20,360.38" fill="#111"/>
<path d="M170.0,496.0 H170.8 V496.0 H171.6 V496.0 H172.4 V496.0 H173.2 V496.0 H174.0 V496.0 H174.8 V496.0 H175.6 V496.0 H176.4 V496.0 H177.2 V496.0 H178.0 V496.0 H178.8 V496.0 H179.6 V496.0 H180.4 V496.0 H181.2 V496.0 H182.0 V496.0 H182.8 V496.0 H183.6 V492.6 H184.4 V494.7 H185.2 V494.1 H186.0 V493.3 H186.8 V493.6 H187.6 V492.5 H188.4 V492.6 H189.2 V487.5 H190.0 V484.6 H190.8 V487.4 H191.6 V483.0 H192.4 V485.8 H193.2 V476.6 H194.0 V477.6 H194.8 V471.7 H195.6 V474.3 H196.4 V467.9 H197.2 V465.2 H198.0 V459.2 H198.8 V461.8 H199.6 V456.0 H200.4 V464.0 H201.2 V463.3 H202.0 V457.9 H202.8 V440.7 H203.6 V443.2 H204.4 V443.6 H205.2 V432.6 H206.0 V428.6 H206.8 V431.7 H207.6 V444.7 H208.4 V430.9 H209.2 V428.0 H210.0 V423.9 H210.8 V446.1 H211.6 V433.9 H212.4 V441.5 H213.2 V434.2 H214.0 V446.0 H214.8 V443.6 H215.6 V449.1 H216.4 V439.5 H217.2 V452.8 H218.0 V455.1 H218.8 V461.5 H219.6 V466.4 H220.4 V468.8 H221.2 V471.3 H222.0 V472.8 H222.8 V473.9 H223.6 V480.2 H224.4 V479.6 H225.2 V479.3 H226.0 V484.7 H226.8 V487.7 H227.6 V487.9 H228.4 V488.8 H229.2 V493.3 H230.0 V494.8 H230.8 V494.1 H231.6 V494.3 H232.4 V493.1 H233.2 V494.2 H234.0 V496.0 H234.8 V496.0 H235.6 V494.2 H236.4 V496.0 H237.2 V496.0 H238.0 V496.0 H238.8 V493.4 H239.6 V496.0 H240.4 V496.0 H241.2 V496.0 H242.0 V496.0 H242.8 V496.0 H243.6 V496.0 H244.4 V496.0 H245.2 V494.8 H246.0 V496.0 H246.8 V496.0 H247.6 V496.0 H248.4 V496.0 H249.2 V496.0 H250.0 V494.8 H250.8 V496.0 H251.6 V494.8 H252.4 V494.2 H253.2 V496.0 H254.0 V493.4 H254.8 V494.8 H255.6 V496.0 H256.4 V494.8 H257.2 V496.0 H258.0 V496.0 H258.8 V494.2 H259.6 V496.0 H260.4 V496.0 H261.2 V496.0" fill="none" stroke="#424242" stroke-width="1.55" stroke-linejoin="miter"/>
<path d="M176.0,496.0 H176.8 V496.0 H177.6 V496.0 H178.4 V496.0 H179.2 V496.0 H180.0 V496.0 H180.8 V496.0 H181.6 V496.0 H182.4 V496.0 H183.2 V496.0 H184.0 V496.0 H184.8 V496.0 H185.6 V494.8 H186.4 V496.0 H187.2 V496.0 H188.0 V496.0 H188.8 V496.0 H189.6 V496.0 H190.4 V496.0 H191.2 V495.2 H192.0 V492.1 H192.8 V492.3 H193.6 V494.3 H194.4 V492.4 H195.2 V490.6 H196.0 V490.7 H196.8 V488.0 H197.6 V485.1 H198.4 V483.9 H199.2 V483.3 H200.0 V480.7 H200.8 V476.5 H201.6 V480.6 H202.4 V469.5 H203.2 V473.1 H204.0 V465.8 H204.8 V467.5 H205.6 V457.7 H206.4 V457.5 H207.2 V453.9 H208.0 V454.1 H208.8 V445.8 H209.6 V433.3 H210.4 V453.5 H211.2 V435.9 H212.0 V435.9 H212.8 V438.9 H213.6 V444.2 H214.4 V423.0 H215.2 V432.9 H216.0 V427.3 H216.8 V438.0 H217.6 V441.7 H218.4 V430.2 H219.2 V434.5 H220.0 V443.7 H220.8 V445.4 H221.6 V442.2 H222.4 V454.0 H223.2 V456.7 H224.0 V454.5 H224.8 V451.0 H225.6 V454.7 H226.4 V461.3 H227.2 V457.9 H228.0 V468.6 H228.8 V472.9 H229.6 V465.5 H230.4 V477.9 H231.2 V475.6 H232.0 V478.4 H232.8 V482.3 H233.6 V484.2 H234.4 V484.6 H235.2 V487.0 H236.0 V491.7 H236.8 V491.4 H237.6 V489.6 H238.4 V492.0 H239.2 V494.3 H240.0 V494.8 H240.8 V496.0 H241.6 V496.0 H242.4 V496.0 H243.2 V496.0 H244.0 V496.0 H244.8 V496.0 H245.6 V496.0 H246.4 V496.0 H247.2 V496.0 H248.0 V496.0 H248.8 V496.0 H249.6 V496.0 H250.4 V496.0 H251.2 V496.0 H252.0 V496.0 H252.8 V496.0 H253.6 V496.0 H254.4 V496.0 H255.2 V496.0 H256.0 V496.0 H256.8 V496.0 H257.6 V496.0 H258.4 V496.0 H259.2 V496.0 H260.0 V493.4 H260.8 V496.0 H261.6 V496.0 H262.4 V494.8 H263.2 V496.0 H264.0 V496.0 H264.8 V496.0 H265.6 V496.0 H266.4 V494.2 H267.2 V496.0 H268.0 V494.8 H268.8 V496.0 H269.6 V496.0 H270.4 V496.0 H271.2 V496.0" fill="none" stroke="#424242" stroke-width="1.55" stroke-linejoin="miter"/>
<text x="288.5" y="415.5" font-size="10.25" text-anchor="start" font-weight="normal" >Control</text>
<text x="288.5" y="427.2" font-size="10.25" text-anchor="start" font-weight="normal" >KM1732</text>
<line x1="287.00" y1="411.50" x2="227.76" y2="422.45" stroke="#111" stroke-width="1.4" />
<polygon points="219.40,424.00 228.96,417.96 230.49,426.22" fill="#111"/>
<line x1="297.00" y1="431.00" x2="238.67" y2="473.49" stroke="#111" stroke-width="1.4" />
<polygon points="231.80,478.50 237.81,468.92 242.76,475.71" fill="#111"/>
<path d="M172.0,609.2 H172.8 V609.2 H173.6 V609.2 H174.4 V609.2 H175.2 V609.2 H176.0 V609.2 H176.8 V609.2 H177.6 V609.2 H178.4 V609.2 H179.2 V609.2 H180.0 V609.2 H180.8 V609.2 H181.6 V609.2 H182.4 V609.2 H183.2 V609.2 H184.0 V609.2 H184.8 V609.2 H185.6 V609.2 H186.4 V605.4 H187.2 V607.0 H188.0 V605.6 H188.8 V604.6 H189.6 V603.9 H190.4 V600.3 H191.2 V592.7 H192.0 V601.3 H192.8 V593.2 H193.6 V588.0 H194.4 V587.9 H195.2 V592.0 H196.0 V584.0 H196.8 V569.1 H197.6 V574.2 H198.4 V564.9 H199.2 V571.8 H200.0 V566.6 H200.8 V565.2 H201.6 V557.2 H202.4 V562.8 H203.2 V560.2 H204.0 V564.6 H204.8 V547.6 H205.6 V544.7 H206.4 V557.5 H207.2 V540.1 H208.0 V547.5 H208.8 V534.7 H209.6 V533.6 H210.4 V544.9 H211.2 V545.1 H212.0 V549.7 H212.8 V539.9 H213.6 V552.4 H214.4 V556.5 H215.2 V563.3 H216.0 V563.7 H216.8 V568.0 H217.6 V561.4 H218.4 V584.0 H219.2 V582.0 H220.0 V587.0 H220.8 V584.1 H221.6 V589.3 H222.4 V590.4 H223.2 V591.0 H224.0 V597.6 H224.8 V599.6 H225.6 V605.5 H226.4 V605.1 H227.2 V609.2 H228.0 V607.4 H228.8 V608.2 H229.6 V609.2 H230.4 V609.2 H231.2 V607.4 H232.0 V609.2 H232.8 V609.2 H233.6 V609.2 H234.4 V609.2 H235.2 V609.2 H236.0 V609.2 H236.8 V609.2 H237.6 V609.2 H238.4 V609.2 H239.2 V609.2 H240.0 V609.2 H240.8 V609.2 H241.6 V609.2 H242.4 V609.2 H243.2 V607.4 H244.0 V609.2 H244.8 V609.2 H245.6 V609.2 H246.4 V608.0 H247.2 V609.2 H248.0 V609.2 H248.8 V609.2 H249.6 V609.2 H250.4 V609.2 H251.2 V609.2 H252.0 V609.2 H252.8 V609.2 H253.6 V609.2 H254.4 V609.2 H255.2 V609.2 H256.0 V609.2 H256.8 V609.2 H257.6 V609.2 H258.4 V607.4 H259.2 V609.2 H260.0 V609.2 H260.8 V609.2 H261.6 V609.2" fill="none" stroke="#424242" stroke-width="1.55" stroke-linejoin="miter"/>
<path d="M184.0,609.2 H184.8 V609.2 H185.6 V609.2 H186.4 V609.2 H187.2 V609.2 H188.0 V609.2 H188.8 V609.2 H189.6 V609.2 H190.4 V609.2 H191.2 V609.2 H192.0 V609.2 H192.8 V609.2 H193.6 V609.2 H194.4 V609.2 H195.2 V609.2 H196.0 V609.2 H196.8 V609.2 H197.6 V609.2 H198.4 V609.2 H199.2 V607.4 H200.0 V606.3 H200.8 V607.8 H201.6 V607.3 H202.4 V606.4 H203.2 V603.6 H204.0 V606.9 H204.8 V603.5 H205.6 V606.8 H206.4 V605.3 H207.2 V603.7 H208.0 V597.0 H208.8 V597.3 H209.6 V595.4 H210.4 V589.1 H211.2 V596.6 H212.0 V585.5 H212.8 V591.6 H213.6 V591.8 H214.4 V588.3 H215.2 V577.2 H216.0 V572.5 H216.8 V584.7 H217.6 V587.2 H218.4 V589.9 H219.2 V579.3 H220.0 V576.9 H220.8 V577.5 H221.6 V579.1 H222.4 V572.8 H223.2 V582.1 H224.0 V580.9 H224.8 V586.0 H225.6 V590.9 H226.4 V596.2 H227.2 V586.7 H228.0 V590.9 H228.8 V591.0 H229.6 V591.8 H230.4 V588.5 H231.2 V588.2 H232.0 V598.5 H232.8 V591.0 H233.6 V586.5 H234.4 V587.0 H235.2 V590.0 H236.0 V587.6 H236.8 V597.3 H237.6 V586.3 H238.4 V589.6 H239.2 V587.5 H240.0 V584.0 H240.8 V586.8 H241.6 V593.9 H242.4 V597.0 H243.2 V589.8 H244.0 V587.0 H244.8 V585.7 H245.6 V581.0 H246.4 V584.7 H247.2 V585.1 H248.0 V596.8 H248.8 V582.7 H249.6 V586.4 H250.4 V578.4 H251.2 V583.6 H252.0 V592.4 H252.8 V588.1 H253.6 V585.7 H254.4 V594.8 H255.2 V599.1 H256.0 V588.9 H256.8 V594.8 H257.6 V594.0 H258.4 V593.7 H259.2 V596.7 H260.0 V593.1 H260.8 V596.8 H261.6 V598.2 H262.4 V597.4 H263.2 V602.0 H264.0 V607.2 H264.8 V604.1 H265.6 V608.9 H266.4 V605.2 H267.2 V609.2 H268.0 V607.1 H268.8 V607.5 H269.6 V607.9 H270.4 V608.2 H271.2 V608.4 H272.0 V606.6 H272.8 V609.2 H273.6 V609.2 H274.4 V609.2 H275.2 V609.2 H276.0 V609.2 H276.8 V609.2 H277.6 V609.2 H278.4 V609.2 H279.2 V609.2 H280.0 V609.2 H280.8 V609.2 H281.6 V609.2 H282.4 V609.2 H283.2 V609.2" fill="none" stroke="#424242" stroke-width="1.55" stroke-linejoin="miter"/>
<text x="289.5" y="530.5" font-size="10.25" text-anchor="start" font-weight="normal" >Control</text>
<text x="289.5" y="542.3" font-size="10.25" text-anchor="start" font-weight="normal" >KM1992</text>
<line x1="288.00" y1="526.60" x2="222.53" y2="543.48" stroke="#111" stroke-width="1.4" />
<polygon points="214.30,545.60 223.42,538.91 225.52,547.05" fill="#111"/>
<line x1="293.40" y1="546.00" x2="262.84" y2="581.55" stroke="#111" stroke-width="1.4" />
<polygon points="257.30,588.00 260.96,577.30 267.33,582.77" fill="#111"/>
</g>
</g>
</svg>
</body></html>
